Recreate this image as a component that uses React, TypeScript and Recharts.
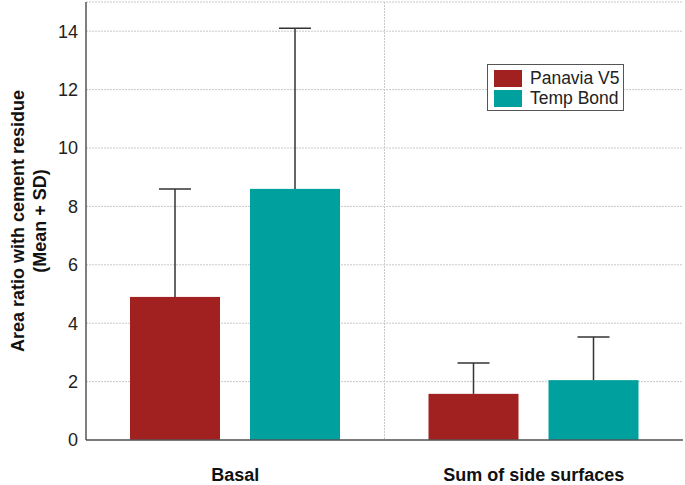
import React from "react";
import {
  BarChart,
  Bar,
  XAxis,
  YAxis,
  CartesianGrid,
} from "recharts";

const categories = ["Basal", "Sum of side surfaces"];
const panaviaMean = [4.9, 1.58];
const panaviaSd = [3.7, 1.06];
const tempBondMean = [8.6, 2.05];
const tempBondSd = [5.5, 1.48];
const yTicks = [0, 2, 4, 6, 8, 10, 12, 14];
const seriesNames = ["Panavia V5", "Temp Bond"];

const COLORS = {
  panavia: "#A12121",
  tempBond: "#00A09E",
  frame: "#555555",
  grid: "#C8C8C8",
};

const data = categories.map((name, i) => ({
  name,
  panavia: panaviaMean[i],
  panaviaSd: panaviaSd[i],
  tempBond: tempBondMean[i],
  tempBondSd: tempBondSd[i],
}));

const FONT = "'Liberation Sans', Arial, sans-serif";

// bar with an upper-only SD whisker, scaled from the bar's own pixel height
function makeShape(valueKey: string, sdKey: string, fill: string) {
  return (props: any) => {
    const { x, y, width, height, payload } = props;
    const value = payload[valueKey];
    const sd = payload[sdKey];
    const pxPerUnit = value ? height / value : 0;
    const top = y - sd * pxPerUnit;
    const cx = x + width / 2;
    return (
      <g>
        <rect x={x} y={y} width={width} height={height} fill={fill} />
        <line x1={cx} x2={cx} y1={y} y2={top} stroke="#333" strokeWidth={1.5} />
        <line x1={cx - 16} x2={cx + 16} y1={top} y2={top} stroke="#333" strokeWidth={1.5} />
      </g>
    );
  };
}

function LegendBox() {
  const colors = [COLORS.panavia, COLORS.tempBond];
  return (
    <div
      style={{
        position: "absolute",
        left: 487,
        top: 64,
        boxSizing: "border-box",
        width: 137,
        height: 47,
        border: "1.5px solid #555",
        background: "#fff",
        padding: "3px 0 0 6px",
        fontFamily: FONT,
        fontSize: 17.5,
        color: "#222",
      }}
    >
      {seriesNames.map((label, i) => (
        <div key={label} style={{ display: "flex", alignItems: "center", height: 20 }}>
          <span
            style={{
              display: "inline-block",
              width: 28,
              height: 17,
              background: colors[i],
              marginRight: 8,
            }}
          />
          {label}
        </div>
      ))}
    </div>
  );
}

function YLabel(props: any) {
  const { viewBox } = props;
  const cy = viewBox.y + viewBox.height / 2;
  return (
    <text
      transform={`translate(0, ${cy}) rotate(-90)`}
      textAnchor="middle"
      fontFamily={FONT}
      fontSize={18}
      fontWeight="bold"
      fill="#111"
    >
      <tspan x={0} y={24}>Area ratio with cement residue</tspan>
      <tspan x={0} y={46}>(Mean + SD)</tspan>
    </text>
  );
}

export default function App() {
  return (
    <div style={{ position: "absolute", left: 0, top: 0, width: 685, height: 485, background: "#fff" }}>
      <BarChart
        width={685}
        height={485}
        data={data}
        margin={{ top: 2, right: 2, bottom: 0, left: 0 }}
        barSize={90}
        barGap={30}
      >
        <CartesianGrid
          stroke={COLORS.grid}
          strokeDasharray="2 1"
          verticalCoordinatesGenerator={({ offset }: any) => [
            offset.left + offset.width / 2,
          ]}
        />
        <XAxis
          dataKey="name"
          height={45}
          axisLine={{ stroke: COLORS.frame, strokeWidth: 1.5 }}
          tickLine={false}
          tick={{ fontFamily: FONT, fontSize: 18, fontWeight: "bold", fill: "#111" }}
          tickMargin={22}
        />
        <XAxis
          xAxisId="top"
          dataKey="name"
          orientation="top"
          height={0}
          tick={false}
          tickLine={false}
          axisLine={{ stroke: COLORS.frame, strokeWidth: 1.5 }}
        />
        <YAxis
          width={86}
          domain={[0, 15]}
          ticks={yTicks}
          interval={0}
          allowDataOverflow
          axisLine={{ stroke: COLORS.frame, strokeWidth: 1.5 }}
          tickLine={false}
          tickSize={0}
          tickMargin={8}
          tick={{ fontFamily: FONT, fontSize: 18, fill: "#222" }}
          label={<YLabel />}
        />
        <YAxis
          yAxisId="right"
          orientation="right"
          width={0}
          domain={[0, 15]}
          tick={false}
          tickLine={false}
          axisLine={{ stroke: COLORS.frame, strokeWidth: 1.5 }}
        />
        <Bar
          dataKey="panavia"
          name={seriesNames[0]}
          fill={COLORS.panavia}
          isAnimationActive={false}
          shape={makeShape("panavia", "panaviaSd", COLORS.panavia)}
        />
        <Bar
          dataKey="tempBond"
          name={seriesNames[1]}
          fill={COLORS.tempBond}
          isAnimationActive={false}
          shape={makeShape("tempBond", "tempBondSd", COLORS.tempBond)}
        />
      </BarChart>
      <LegendBox />
    </div>
  );
}
